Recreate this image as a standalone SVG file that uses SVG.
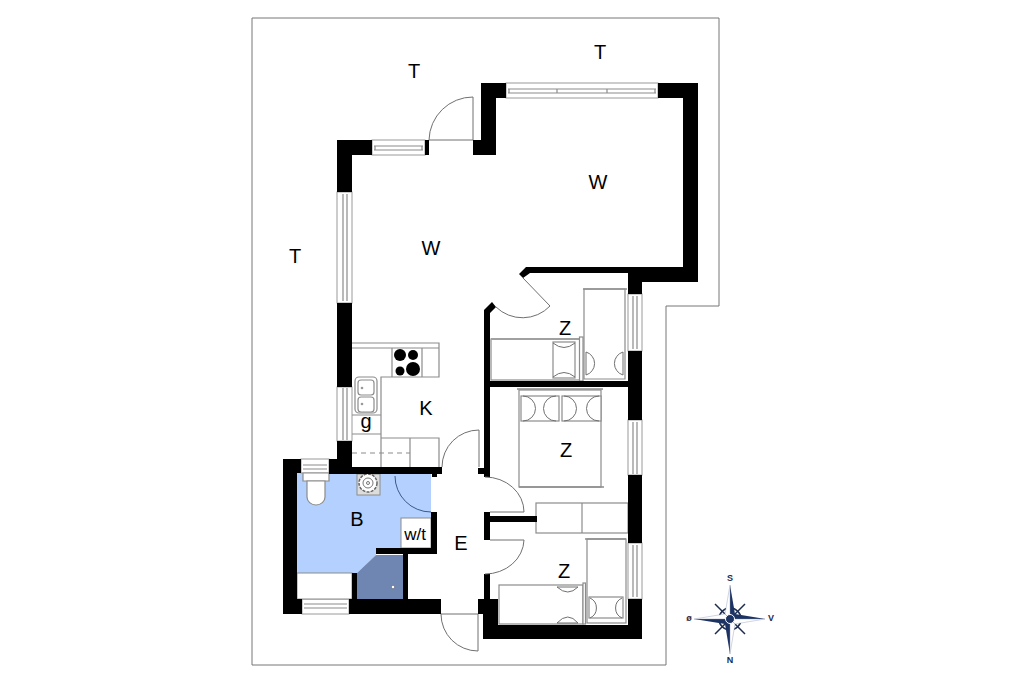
<svg xmlns="http://www.w3.org/2000/svg" width="1024" height="682" viewBox="0 0 1024 682">
<style>
.w{fill:#000}
.l{fill:none;stroke:#8c8c8c;stroke-width:1.2}
.f{fill:#fff;stroke:#8c8c8c;stroke-width:1.2}
.d{fill:none;stroke:#707070;stroke-width:1}
.win{fill:#fff;stroke:#9a9a9a;stroke-width:1}
.t{font-family:"Liberation Sans",Arial,sans-serif;font-size:20px;fill:#000;text-anchor:middle}
.c{font-family:"Liberation Sans",Arial,sans-serif;font-size:9px;font-weight:bold;fill:#1c2c50;text-anchor:middle}
</style>
<rect width="1024" height="682" fill="#fff"/>
<path id="plot" d="M252 18H719V306H666V665H252Z" fill="none" stroke="#777" stroke-width="1"/>
<g id="floors">
<path d="M297 473H431V518H401V548H376V555L357 573H297Z" fill="#b3d0ff"/>
<path d="M357 573L376 555H403V599H357Z" fill="#6f86b2"/>
<circle cx="393" cy="587" r="1.7" fill="#fff" stroke="#333" stroke-width=".4"/>
</g>
<g id="windows">
<rect class="win" x="506" y="83" width="152" height="15"/>
<path class="l" d="M508 89H656M508 93H656M509 89V93M557 89V93M607 89V93M655 89V93"/>
<rect class="win" x="372" y="140" width="53" height="15"/>
<path class="l" d="M374 146H423M374 150H423M375 146V150M422 146V150"/>
<rect class="win" x="337" y="192" width="15" height="111"/>
<path class="l" d="M343 194V301M347 194V301"/>
<rect class="win" x="337" y="387" width="15" height="54"/>
<path class="l" d="M343 388V440M347 388V440"/>
<rect class="win" x="628" y="294" width="14" height="57"/>
<path class="l" d="M633 296V349M637 296V349"/>
<rect class="win" x="628" y="420" width="14" height="55"/>
<path class="l" d="M633 422V474M637 422V474"/>
<rect class="win" x="628" y="543" width="14" height="56"/>
<path class="l" d="M633 545V597M637 545V597"/>
<rect class="win" x="301" y="459" width="28" height="14"/>
<path class="l" d="M303 465H327M303 469H327"/>
<rect class="win" x="302" y="599" width="47" height="15"/>
<path class="l" d="M304 604H347M304 608H347"/>
</g>
<g id="kitchen">
<path class="l" d="M352 343H439V348H352M439 348V377H381V438H439V467M392 348V377M422 348V377M381 438V467"/>
<path class="l" d="M410 438V467M352 415H381M352 434H381"/>
<path class="l" stroke-dasharray="5 4" d="M352 453H410"/>
<circle cx="400" cy="355" r="6"/><circle cx="413" cy="355" r="5"/><circle cx="400" cy="371" r="4.5"/><circle cx="413" cy="369" r="7"/>
<rect class="f" x="355" y="377" width="22" height="36" rx="4"/>
<rect class="f" x="358" y="380" width="16" height="15" rx="3"/>
<rect class="f" x="358" y="397" width="16" height="15" rx="3"/>
<circle cx="362" cy="388" r="1.3" fill="#999"/><circle cx="362" cy="404" r="1.3" fill="#999"/>
</g>
<g id="bath">
<path class="f" d="M303 473H329V481H303Z"/>
<path class="f" d="M307 481H325V497A9 8 0 0 1 307 497Z"/>
<rect x="357" y="474" width="23" height="21" fill="#ddd" stroke="#8c8c8c"/>
<circle cx="368" cy="483" r="9" fill="#fff" stroke="#666" stroke-width="1.5" stroke-dasharray="3 1.2"/>
<circle cx="368" cy="483" r="5" fill="#fff" stroke="#777"/>
<circle cx="368" cy="483" r="1.5" fill="#fff" stroke="#777"/>
<rect x="297" y="573" width="55" height="26" fill="#fff" stroke="#8c8c8c"/>
<rect x="401" y="518" width="30" height="30" fill="#fff" stroke="#8c8c8c"/>
</g>
<g id="furniture">
<rect class="f" x="491" y="339" width="89" height="41"/>
<path d="M491 339H580" stroke="#a0a0a0" stroke-width="2"/>
<rect class="f" x="579.500" y="337" width="3.500" height="44"/>
<rect class="f" x="553" y="342" width="22" height="36"/>
<path class="d" d="M553 343Q564 352 575 343M553 377Q564 368 575 377"/>
<path class="f" d="M584 289H625V379H584Z"/>
<path d="M583 289H627" stroke="#8c8c8c" stroke-width="1.5"/>
<path class="d" d="M586 352A12 12 0 0 1 586 375V352M623 352A12 12 0 0 0 623 375V352"/>
<rect class="f" x="519" y="390" width="82" height="97"/>
<path d="M517 389H603M519 487H604" stroke="#8c8c8c" stroke-width="1.500"/>
<rect class="f" x="521" y="396" width="38" height="25"/>
<rect class="f" x="562" y="396" width="39" height="25"/>
<path class="d" d="M523 396A12 12 0 0 1 523 421M556 396A12 12 0 0 0 556 421M564 396A12 12 0 0 1 564 421M599 396A12 12 0 0 0 599 421"/>
<rect class="f" x="536" y="503" width="92" height="30"/>
<path class="l" d="M582 503V533"/>
<rect class="f" x="587" y="539" width="39" height="84"/>
<path d="M585 539H626" stroke="#8c8c8c" stroke-width="1.500"/>
<rect class="f" x="589" y="597" width="34" height="21"/>
<path class="d" d="M590 598A11 11 0 0 1 590 618M622 598A11 11 0 0 0 622 618"/>
<rect class="f" x="499" y="585" width="84" height="39"/>
<rect class="f" x="583" y="583" width="2.500" height="41"/>
<path class="d" d="M557 587Q568 597 578 587H557M557 623Q568 611 578 623H557"/>
</g>
<g id="walls">
<path class="w" d="M337 140H372V155H352V192H337Z"/>
<rect class="w" x="425" y="140" width="4" height="15"/>
<path class="w" d="M473 140H481V83H506V98H496V155H473Z"/>
<path class="w" d="M658 83H698V282H642V294H628V273H530L523 278L519 274L526 267H683V98H658Z"/>
<rect class="w" x="337" y="303" width="15" height="84"/>
<path class="w" d="M337 441H352V467H442V474H437V477H432V474H329V459H337Z"/>
<path class="w" d="M283 459H301V473H297V599H302V614H283Z"/>
<path class="w" d="M484 310L492 302L496 307L490 313V477H484V474H478V468H484Z"/>
<rect class="w" x="490" y="381" width="138" height="6"/>
<rect class="w" x="628" y="351" width="14" height="69"/>
<rect class="w" x="628" y="475" width="14" height="68"/>
<path class="w" d="M484 512H490V516H537V522H490V540H484Z"/>
<path class="w" d="M484 574H490V599H498V625H628V599H642V639H483V614H478V599H484Z"/>
<path class="w" d="M431 512H437V554H376V548H431Z"/>
<rect class="w" x="403" y="554" width="5" height="45"/>
<rect class="w" x="352" y="573" width="5" height="26"/>
<rect class="w" x="349" y="599" width="92" height="15"/>
</g>
<g id="doors">
<path class="d" d="M429 140H473V97A44 44 0 0 0 429 140"/>
<path class="d" d="M523 278L550 306A38 38 0 0 1 496 307"/>
<path class="d" d="M442 467A37 37 0 0 1 479 430V467"/>
<path class="d" d="M485 477A39 35 0 0 1 524 512H490"/>
<path class="d" d="M490 540H524A39 35 0 0 1 485 574"/>
<path class="d" d="M441 614H478V651A37 37 0 0 1 441 614"/>
<path d="M395 476A36 36 0 0 0 431 512" fill="none" stroke="#3a5a8c" stroke-width="1"/>
</g>
<g id="labels">
<text class="t" x="414" y="78">T</text>
<text class="t" x="600" y="59">T</text>
<text class="t" x="295" y="263">T</text>
<text class="t" x="598" y="189">W</text>
<text class="t" x="431" y="255">W</text>
<text class="t" x="426" y="415">K</text>
<text class="t" x="366" y="428">g</text>
<text class="t" x="565" y="335">Z</text>
<text class="t" x="566" y="457">Z</text>
<text class="t" x="564" y="578">Z</text>
<text class="t" x="357" y="526">B</text>
<text class="t" x="461" y="550">E</text>
<text class="t" x="415" y="540" style="font-size:17px">w/t</text>
</g>
<g id="compass">
<path d="M715 604L745 634M745 604L715 634" stroke="#1c2c50" stroke-width="1.500"/>
<circle cx="730" cy="619" r="11" fill="none" stroke="#1c2c50" stroke-width="1.500"/>
<path d="M730 585L735 614L730 619Z" fill="#1c3263"/>
<path d="M730 585L725 614L730 619Z" fill="#fff" stroke="#8896b0" stroke-width=".4"/>
<path d="M730 654L725 624L730 619Z" fill="#1c3263"/>
<path d="M730 654L735 624L730 619Z" fill="#fff" stroke="#8896b0" stroke-width=".4"/>
<path d="M765 619L735 614L730 619Z" fill="#1c3263"/>
<path d="M765 619L735 624L730 619Z" fill="#fff" stroke="#8896b0" stroke-width=".4"/>
<path d="M694 619L725 624L730 619Z" fill="#1c3263"/>
<path d="M694 619L725 614L730 619Z" fill="#fff" stroke="#8896b0" stroke-width=".4"/>
<circle cx="730" cy="619" r="4.500" fill="#1c3263" stroke="#fff" stroke-width="1"/>
<text class="c" x="730" y="581">S</text>
<text class="c" x="771" y="621">V</text>
<text class="c" x="730" y="663">N</text>
<text class="c" x="689" y="621">ø</text>
</g>
</svg>
